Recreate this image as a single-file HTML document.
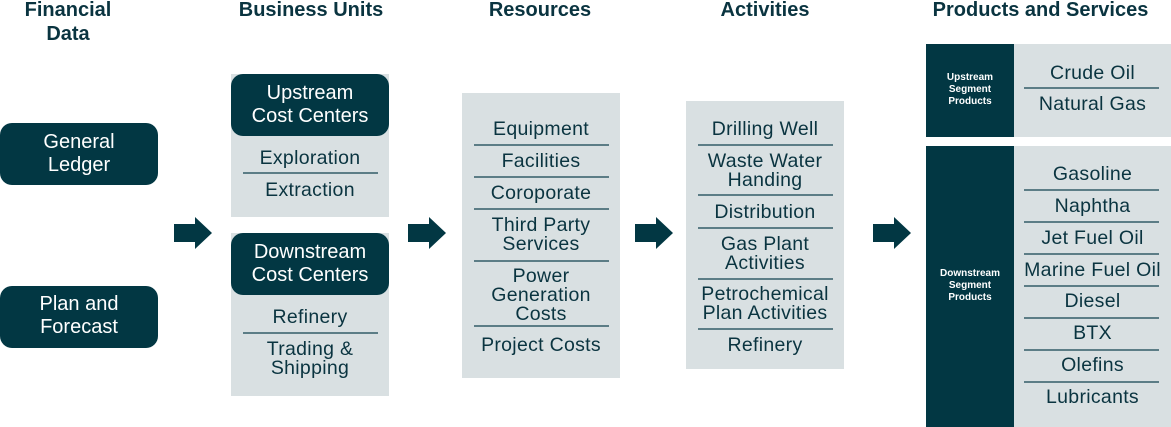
<!DOCTYPE html>
<html><head><meta charset="utf-8"><style>
body{margin:0;width:1171px;height:427px;background:#fff;position:relative;overflow:hidden;font-family:"Liberation Sans",sans-serif;color:#0a3440}
div{position:absolute;box-sizing:border-box}
.h{font-weight:bold;font-size:20px;text-align:center;line-height:24px;color:#0a3440}
.g{background:#d9e0e2}
.d{background:#023743;color:#fff;text-align:center}
.t{text-align:center;font-size:19.5px;letter-spacing:0.3px;line-height:19px;color:#0a3440;white-space:nowrap}
.l{height:1.5px;background:#5c7d86}
.dt{color:#fff;font-size:20px;line-height:23px;text-align:center;white-space:nowrap}
.s{color:#fff;font-size:10px;font-weight:bold;line-height:12px;text-align:center}
</style></head><body>
<div class="h" style="left:0;width:136px;top:-2px">Financial<br>Data</div>
<div class="h" style="left:211px;width:200px;top:-2px">Business Units</div>
<div class="h" style="left:440px;width:200px;top:-2px">Resources</div>
<div class="h" style="left:665px;width:200px;top:-2px">Activities</div>
<div class="h" style="left:910px;width:261px;top:-2px">Products and Services</div>

<div class="d" style="left:0;top:123px;width:158px;height:62px;border-radius:12px"></div>
<div class="dt" style="left:0;width:158px;top:131px">General<br>Ledger</div>
<div class="d" style="left:0;top:286px;width:158px;height:62px;border-radius:12px"></div>
<div class="dt" style="left:0;width:158px;top:293px">Plan and<br>Forecast</div>

<div class="g" style="left:231px;top:74px;width:158px;height:143px"></div>
<div class="d" style="left:231px;top:74px;width:158px;height:62px;border-radius:12px"></div>
<div class="dt" style="left:231px;width:158px;top:82px">Upstream<br>Cost Centers</div>
<div class="t" style="left:231px;width:158px;top:149px">Exploration</div>
<div class="l" style="left:243px;width:135px;top:172px"></div>
<div class="t" style="left:231px;width:158px;top:181px">Extraction</div>

<div class="g" style="left:231px;top:233px;width:158px;height:163px"></div>
<div class="d" style="left:231px;top:233px;width:158px;height:62px;border-radius:12px"></div>
<div class="dt" style="left:231px;width:158px;top:241px">Downstream<br>Cost Centers</div>
<div class="t" style="left:231px;width:158px;top:308px">Refinery</div>
<div class="l" style="left:243px;width:135px;top:332px"></div>
<div class="t" style="left:231px;width:158px;top:340px">Trading &amp;<br>Shipping</div>

<div class="g" style="left:462px;top:93px;width:158px;height:285px"></div>
<div class="t" style="left:462px;width:158px;top:120px">Equipment</div>
<div class="l" style="left:474px;width:135px;top:144px"></div>
<div class="t" style="left:462px;width:158px;top:152px">Facilities</div>
<div class="l" style="left:474px;width:135px;top:176px"></div>
<div class="t" style="left:462px;width:158px;top:184px">Coroporate</div>
<div class="l" style="left:474px;width:135px;top:208px"></div>
<div class="t" style="left:462px;width:158px;top:216px">Third Party<br>Services</div>
<div class="l" style="left:474px;width:135px;top:260px"></div>
<div class="t" style="left:462px;width:158px;top:267px">Power<br>Generation<br>Costs</div>
<div class="l" style="left:474px;width:135px;top:325px"></div>
<div class="t" style="left:462px;width:158px;top:336px">Project Costs</div>

<div class="g" style="left:686px;top:101px;width:158px;height:268px"></div>
<div class="t" style="left:686px;width:158px;top:120px">Drilling Well</div>
<div class="l" style="left:698px;width:135px;top:144px"></div>
<div class="t" style="left:686px;width:158px;top:152px">Waste Water<br>Handing</div>
<div class="l" style="left:698px;width:135px;top:194px"></div>
<div class="t" style="left:686px;width:158px;top:203px">Distribution</div>
<div class="l" style="left:698px;width:135px;top:227px"></div>
<div class="t" style="left:686px;width:158px;top:235px">Gas Plant<br>Activities</div>
<div class="l" style="left:698px;width:135px;top:278px"></div>
<div class="t" style="left:686px;width:158px;top:285px">Petrochemical<br>Plan Activities</div>
<div class="l" style="left:698px;width:135px;top:328px"></div>
<div class="t" style="left:686px;width:158px;top:336px">Refinery</div>

<div class="d" style="left:926px;top:44px;width:88px;height:93px"></div>
<div class="g" style="left:1014px;top:44px;width:157px;height:93px"></div>
<div class="s" style="left:926px;width:88px;top:72px">Upstream<br>Segment<br>Products</div>
<div class="t" style="left:1014px;width:157px;top:64px">Crude Oil</div>
<div class="l" style="left:1024px;width:135px;top:87px"></div>
<div class="t" style="left:1014px;width:157px;top:95px">Natural Gas</div>

<div class="d" style="left:926px;top:146px;width:88px;height:281px"></div>
<div class="g" style="left:1014px;top:146px;width:157px;height:281px"></div>
<div class="s" style="left:926px;width:88px;top:268px">Downstream<br>Segment<br>Products</div>
<div class="t" style="left:1014px;width:157px;top:165px">Gasoline</div>
<div class="l" style="left:1024px;width:135px;top:189px"></div>
<div class="t" style="left:1014px;width:157px;top:197px">Naphtha</div>
<div class="l" style="left:1024px;width:135px;top:221px"></div>
<div class="t" style="left:1014px;width:157px;top:229px">Jet Fuel Oil</div>
<div class="l" style="left:1024px;width:135px;top:253px"></div>
<div class="t" style="left:1014px;width:157px;top:261px">Marine Fuel Oil</div>
<div class="l" style="left:1024px;width:135px;top:285px"></div>
<div class="t" style="left:1014px;width:157px;top:292px">Diesel</div>
<div class="l" style="left:1024px;width:135px;top:317px"></div>
<div class="t" style="left:1014px;width:157px;top:324px">BTX</div>
<div class="l" style="left:1024px;width:135px;top:349px"></div>
<div class="t" style="left:1014px;width:157px;top:356px">Olefins</div>
<div class="l" style="left:1024px;width:135px;top:381px"></div>
<div class="t" style="left:1014px;width:157px;top:388px">Lubricants</div>

<svg style="position:absolute;left:0;top:0" width="1171" height="427">
<g fill="#023743">
<polygon points="174,224 195,224 195,217 212,233 195,249 195,242 174,242"/>
<polygon points="408,224 429,224 429,217 446,233 429,249 429,242 408,242"/>
<polygon points="635,224 656,224 656,217 673,233 656,249 656,242 635,242"/>
<polygon points="873,224 894,224 894,217 911,233 894,249 894,242 873,242"/>
</g></svg>
</body></html>
